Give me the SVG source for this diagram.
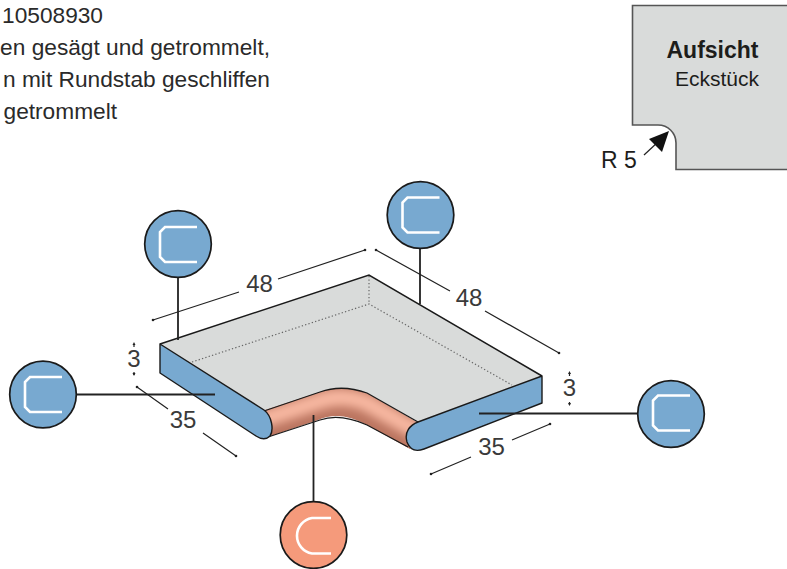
<svg xmlns="http://www.w3.org/2000/svg" width="787" height="569" viewBox="0 0 787 569">
<style>
text{font-family:"Liberation Sans",Arial,Helvetica,sans-serif;fill:#1d1d1b}
.t{font-size:22.700px;text-anchor:end;fill:#2a2a2a}
.d{font-size:24px;text-anchor:middle;fill:#3a3a3a}
.face{fill:#78a9d0;stroke:#1a1a1a;stroke-width:1.4;stroke-linejoin:round}
.c{stroke:#1a1a1a;stroke-width:1.7}
.blue{fill:#78a9d0}
.red{fill:#f59a7b}
.g{fill:none;stroke:#fff;stroke-width:2.600}
.lead{stroke:#222;stroke-width:1.8;fill:none}
.dim{stroke:#222;stroke-width:1.2;fill:none}
.dot{stroke:#666;stroke-width:1.2;stroke-dasharray:1.3 2.2;fill:none}
</style>
<defs>
<clipPath id="bandclip"><path d="M262 411L320 392Q342 384 367 393L420 424L410 449L367 425Q340 410 318 420L262 439Z"/></clipPath>
<filter id="soft" x="-20%" y="-80%" width="140%" height="260%"><feGaussianBlur stdDeviation="5"/></filter>
<path id="sq" d="M19 -17H-13L-18 -12V13L-13 18H19" class="g"/>
<path id="rd" d="M19 -17H0A18 18 0 0 0 0 18.500H19" class="g"/>
</defs>
<g id="caption">
<text class="t" x="103" y="23">10508930</text>
<text class="t" x="270" y="55">en gesägt und getrommelt,</text>
<text class="t" x="270" y="87">n mit Rundstab geschliffen</text>
<text class="t" x="117" y="119">getrommelt</text>
</g>
<g id="plan">
<path d="M787 5.500H632.500V125H658C668 125 676 133 676 143V169.500H787" fill="#d9dbda" stroke="#555" stroke-width="1.6"/>
<text x="712.500" y="58" text-anchor="middle" font-size="23" font-weight="700">Aufsicht</text>
<text x="759" y="86" text-anchor="end" font-size="21" fill="#333">Eckstück</text>
<text x="601" y="168" font-size="23" fill="#333">R 5</text>
<path d="M644 155L658 142" stroke="#222" stroke-width="1.2"/>
<path d="M669 131L662 152L649 139Z" fill="#111"/>
</g>
<g id="slab">
<path d="M160 344L369 275L542 376L418 422L367 393Q342 383 320 392L264 411Z" fill="#d9dbda"/>
<path class="dot" d="M369 276V304M192 362L369 304L512 385"/>
<g clip-path="url(#bandclip)">
<rect x="255" y="380" width="170" height="75" fill="#bb7560"/>
<path d="M258 421L320 401Q342 393 367 403L420 433" fill="none" stroke="#f7b7a0" stroke-width="17" filter="url(#soft)"/>
</g>
<path d="M264 411L320 392Q342 384 367 393L418 422M265 438L320 420Q340 413 367 425L408 447" fill="none" stroke="#1a1a1a" stroke-width="1.3"/>
<path d="M160 344L369 275L542 376" fill="none" stroke="#1a1a1a" stroke-width="1.5"/>
<path class="face" d="M160 344V373L256 436C262 440 266 440 270 436C274 430 272 416 264 410Z"/>
<path class="face" d="M542 376V403L424 449C416 452 410 450 407 442C404 432 410 425 418 422Z"/>
</g>
<g id="connectors">
<path class="lead" d="M178 277V340M420 248V304M77 394.500H215M479 413.500H638M313.500 415V502"/>
</g>
<g id="dimensions">
<path class="dim" d="M153 320L239 292M278 279L365 250M376 250L450 291M485 311L559 353M137 387L168 409M203 433L236 456M431 474L471 457M512 440L550 424"/>
<g fill="#222">
<circle cx="153" cy="320" r="1.300"/><circle cx="365" cy="250" r="1.300"/><circle cx="376" cy="250" r="1.300"/><circle cx="559" cy="353" r="1.300"/><circle cx="137" cy="387" r="1.300"/><circle cx="236" cy="456" r="1.300"/><circle cx="431" cy="474" r="1.300"/><circle cx="550" cy="424" r="1.300"/>
<path d="M134 342l-1.500 3h3zM134 376l-1.500 -3h3zM569.500 371l-1.500 3h3zM569.500 406l-1.500 -3h3z"/>
</g>
<path class="dim" d="M134 344V347M134 372V375M569.500 373V376M569.500 402V405"/>
<text class="d" x="259.500" y="292">48</text>
<text class="d" x="469" y="306">48</text>
<text class="d" x="183" y="428">35</text>
<text class="d" x="491.500" y="455">35</text>
<text class="d" x="134" y="367">3</text>
<text class="d" x="569.500" y="396">3</text>
</g>
<g id="node-top-left"><circle class="c blue" cx="178" cy="244" r="33.300"/><use href="#sq" x="178" y="244"/></g>
<g id="node-top"><circle class="c blue" cx="420.500" cy="215" r="33.300"/><use href="#sq" x="420.500" y="214.500"/></g>
<g id="node-left"><circle class="c blue" cx="43" cy="394.500" r="33.300"/><use href="#sq" x="43" y="394"/></g>
<g id="node-right"><circle class="c blue" cx="671" cy="414" r="33.300"/><use href="#sq" x="671" y="412.500"/></g>
<g id="node-bottom"><circle class="c red" cx="313.500" cy="535" r="33.300"/><use href="#rd" x="312" y="535"/></g>
</svg>
